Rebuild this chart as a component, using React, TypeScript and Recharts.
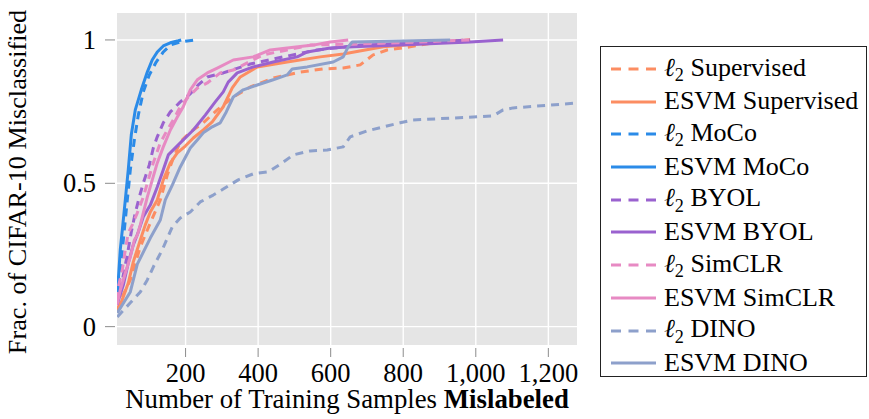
import React from 'react';
import { LineChart, Line, XAxis, YAxis, CartesianGrid } from 'recharts';

const FONT = '"Liberation Serif", "Times New Roman", Times, serif';

// [samples mislabeled, fraction misclassified]
const l2Supervised: number[][] = [
  [11.8, 0.058], [25.6, 0.104], [47.7, 0.163], [75.2, 0.278], [102.8, 0.362], [130.4, 0.442],
  [149.6, 0.529], [166.1, 0.588], [185.4, 0.644], [213, 0.679], [248.8, 0.711], [287.4, 0.756],
  [331.5, 0.801], [378.3, 0.836], [441.6, 0.867], [516, 0.888], [579.4, 0.899], [634.5, 0.902],
  [681.3, 0.913], [717.1, 0.948], [755.7, 0.965], [819, 0.976], [882.4, 0.99], [984.3, 1.0],
];
const esvmSupervised: number[][] = [
  [11.8, 0.051], [28.4, 0.104], [42.1, 0.152], [55.9, 0.226], [75.2, 0.302], [89, 0.355],
  [102.8, 0.4], [122, 0.442], [138.6, 0.512], [158, 0.571], [177.3, 0.606], [199.3, 0.63],
  [221.3, 0.658], [248.8, 0.686], [273.6, 0.714], [303.9, 0.767], [328.7, 0.833], [350.8, 0.871],
  [397.6, 0.906], [480.2, 0.923], [571, 0.941], [634.5, 0.951], [744.7, 0.976], [882.4, 0.99],
  [984.3, 1.0],
];
const l2MoCo: number[][] = [
  [11.8, 0.093], [20, 0.198], [28.4, 0.302], [39.4, 0.442], [47.7, 0.547], [58.8, 0.651],
  [69.7, 0.738], [83.5, 0.819], [100, 0.878], [119, 0.923], [138.6, 0.958], [158, 0.982],
  [185, 0.993], [226.7, 1.0],
];
const esvmMoCo: number[][] = [
  [11, 0.076], [14.6, 0.163], [20, 0.268], [25.6, 0.337], [33.9, 0.442], [42, 0.547],
  [50.4, 0.669], [61.4, 0.756], [78, 0.826], [94.5, 0.888], [108, 0.93], [122, 0.958],
  [138.6, 0.979], [157.9, 0.99], [180, 0.997], [188, 1.0],
];
const l2BYOL: number[][] = [
  [11, 0.076], [20.1, 0.128], [28.4, 0.18], [39.4, 0.25], [50.4, 0.33], [61.4, 0.397],
  [72.5, 0.452], [83.5, 0.501], [100, 0.564], [111, 0.623], [122, 0.662], [138.6, 0.711],
  [158, 0.749], [185.4, 0.784], [213, 0.812], [235, 0.843], [259.8, 0.871], [303.9, 0.885],
  [378.3, 0.916], [469.2, 0.941], [562.9, 0.965], [681.3, 0.982], [846.6, 0.99], [984.3, 1.0],
];
const esvmBYOL: number[][] = [
  [11, 0.076], [28.4, 0.145], [42.1, 0.222], [55.9, 0.285], [69.7, 0.33], [83.5, 0.383],
  [102.8, 0.424], [122, 0.487], [138.6, 0.547], [152.4, 0.599], [185.4, 0.641], [221.3, 0.686],
  [254.3, 0.738], [281.8, 0.784], [303.9, 0.819], [317.6, 0.853], [342.4, 0.885], [386.5, 0.906],
  [441.6, 0.923], [507.8, 0.941], [535.3, 0.958], [598.7, 0.972], [662, 0.976], [791.5, 0.982],
  [984.3, 0.993], [1075.3, 1.0],
];
const l2SimCLR: number[][] = [
  [11, 0.093], [14.6, 0.138], [25.6, 0.198], [33.9, 0.268], [42.1, 0.327], [53.2, 0.355],
  [67, 0.397], [83.5, 0.452], [102.8, 0.536], [111, 0.571], [130.4, 0.641], [149.6, 0.686],
  [166.1, 0.721], [185.4, 0.767], [207.4, 0.801], [232.3, 0.832], [259.8, 0.85], [295.6, 0.885],
  [331.5, 0.895], [370, 0.92], [414.1, 0.948], [480.2, 0.965], [543.6, 0.982], [681.3, 0.986],
  [846.6, 0.993], [984.3, 1.0],
];
const esvmSimCLR: number[][] = [
  [11, 0.076], [20.1, 0.128], [33.9, 0.187], [47.7, 0.243], [58.8, 0.302], [67, 0.319],
  [75.2, 0.355], [83.5, 0.397], [94.5, 0.452], [108.3, 0.512], [122, 0.571], [138.6, 0.627],
  [158, 0.686], [177.3, 0.731], [193.7, 0.767], [213, 0.826], [232.3, 0.861], [259.8, 0.885],
  [287.4, 0.902], [331.5, 0.93], [386.5, 0.941], [433.4, 0.965], [480.2, 0.972], [551.8, 0.982],
  [598.7, 0.993], [648.3, 1.0],
];
const l2DINO: number[][] = [
  [11.8, 0.034], [47.7, 0.083], [75.2, 0.121], [94.5, 0.163], [111, 0.208], [135.8, 0.268],
  [163.4, 0.348], [185.4, 0.379], [213, 0.4], [240.5, 0.435], [276.3, 0.459], [303.9, 0.48],
  [345.2, 0.512], [386.5, 0.533], [427.9, 0.54], [466.4, 0.571], [496.7, 0.599], [543.6, 0.613],
  [590.4, 0.616], [634.5, 0.627], [653.8, 0.662], [700.6, 0.683], [791.5, 0.711], [827.3, 0.721],
  [992.6, 0.731], [1047.7, 0.735], [1075.3, 0.756], [1102.8, 0.763], [1279, 0.78],
];
const esvmDINO: number[][] = [
  [11.8, 0.048], [47.7, 0.121], [67, 0.218], [102.8, 0.309], [130.4, 0.372], [144.1, 0.442],
  [163.4, 0.494], [185.4, 0.557], [213, 0.623], [232.3, 0.651], [248.8, 0.676], [273.6, 0.697],
  [295.6, 0.711], [312.2, 0.749], [331.5, 0.801], [359, 0.826], [397.6, 0.843], [441.6, 0.861],
  [480.2, 0.878], [494, 0.899], [535.3, 0.906], [607, 0.923], [634.5, 0.941], [648.3, 0.976],
  [659.3, 0.993], [929.3, 1.0],
];

const xTicks = [200, 400, 600, 800, 1000, 1200];
const yTicks = [0, 0.5, 1];
const xDomain = [11, 1279];
const yDomain = [-0.064, 1.094];

const ORANGE = '#fc8d62';
const BLUE = '#2b8be8';
const PURPLE = '#9a62cf';
const PINK = '#e78ac3';
const GREYBLUE = '#8da0cb';

const series = [
  { name: 'l2 Supervised', ell: true, label: 'Supervised', pts: l2Supervised, color: ORANGE, dashed: true },
  { name: 'ESVM Supervised', ell: false, label: 'ESVM Supervised', pts: esvmSupervised, color: ORANGE, dashed: false },
  { name: 'l2 MoCo', ell: true, label: 'MoCo', pts: l2MoCo, color: BLUE, dashed: true },
  { name: 'ESVM MoCo', ell: false, label: 'ESVM MoCo', pts: esvmMoCo, color: BLUE, dashed: false },
  { name: 'l2 BYOL', ell: true, label: 'BYOL', pts: l2BYOL, color: PURPLE, dashed: true },
  { name: 'ESVM BYOL', ell: false, label: 'ESVM BYOL', pts: esvmBYOL, color: PURPLE, dashed: false },
  { name: 'l2 SimCLR', ell: true, label: 'SimCLR', pts: l2SimCLR, color: PINK, dashed: true },
  { name: 'ESVM SimCLR', ell: false, label: 'ESVM SimCLR', pts: esvmSimCLR, color: PINK, dashed: false },
  { name: 'l2 DINO', ell: true, label: 'DINO', pts: l2DINO, color: GREYBLUE, dashed: true },
  { name: 'ESVM DINO', ell: false, label: 'ESVM DINO', pts: esvmDINO, color: GREYBLUE, dashed: false },
];

const fmtX = (v: number) => v.toLocaleString('en-US');
const fmtY = (v: number) => String(v);

const XTick = (props: any) => {
  const { x, y, payload } = props;
  return (
    <g>
      <line x1={x} x2={x} y1={y + 3} y2={y + 12} stroke="#8c8c8c" strokeWidth={1} />
      <text x={x} y={y + 37} textAnchor="middle" fontFamily={FONT} fontSize={26.5} fill="#000">
        {fmtX(payload.value)}
      </text>
    </g>
  );
};

const YTick = (props: any) => {
  const { x, y, payload } = props;
  return (
    <g>
      <line x1={x - 12} x2={x - 2} y1={y} y2={y} stroke="#8c8c8c" strokeWidth={1} />
      <text x={x - 21} y={y + 9} textAnchor="end" fontFamily={FONT} fontSize={26.5} fill="#000">
        {fmtY(payload.value)}
      </text>
    </g>
  );
};

const LegendLabel = ({ s }: { s: typeof series[number] }) =>
  s.ell ? (
    <span>
      <span style={{ fontStyle: 'italic' }}>ℓ</span>
      <span style={{ fontSize: '0.7em', position: 'relative', top: '0.3em' }}>2</span> {s.label}
    </span>
  ) : (
    <span>{s.label}</span>
  );

export default function App() {
  return (
    <div style={{ position: 'absolute', left: 0, top: 0, width: 869, height: 419, background: '#fff' }}>
      <LineChart width={869} height={419} margin={{ top: 13, right: 292, bottom: 0, left: 0 }}>
        <CartesianGrid
          fill="#e5e5e5"
          stroke="#ffffff"
          strokeWidth={1.4}
          strokeDasharray=""
          verticalValues={xTicks}
          horizontalValues={yTicks}
        />
        <XAxis
          type="number"
          dataKey="x"
          domain={xDomain}
          ticks={xTicks}
          allowDataOverflow
          axisLine={false}
          tickLine={false}
          tickSize={0}
          tickMargin={0}
          height={74}
          tick={<XTick />}
          interval={0}
        />
        <YAxis
          type="number"
          dataKey="y"
          domain={yDomain}
          ticks={yTicks}
          allowDataOverflow
          axisLine={false}
          tickLine={false}
          tickSize={0}
          tickMargin={0}
          width={117}
          tick={<YTick />}
          interval={0}
        />
        {series.map((s) => (
          <Line
            key={s.name}
            data={s.pts.map(([x, y]) => ({ x, y }))}
            dataKey="y"
            type="linear"
            stroke={s.color}
            strokeWidth={3}
            strokeDasharray={s.dashed ? '8 6' : undefined}
            strokeLinejoin="round"
            dot={false}
            activeDot={false}
            isAnimationActive={false}
          />
        ))}
      </LineChart>

      <div
        style={{
          position: 'absolute', left: 18, top: 182, transform: 'translate(-50%, -50%) rotate(-90deg)',
          whiteSpace: 'nowrap', fontFamily: FONT, fontSize: 26.2, lineHeight: 1, color: '#000',
        }}
      >
        Frac. of CIFAR-10 Misclassified
      </div>
      <div
        style={{
          position: 'absolute', left: 347, top: 386, transform: 'translateX(-50%)',
          whiteSpace: 'nowrap', fontFamily: FONT, fontSize: 26.8, lineHeight: 1, color: '#000',
        }}
      >
        Number of Training Samples <b>Mislabeled</b>
      </div>

      <div
        style={{
          position: 'absolute', left: 600, top: 46, width: 267, height: 331,
          border: '1.3px solid #222', boxSizing: 'border-box', background: '#fff',
          fontFamily: FONT, fontSize: 26, color: '#000',
        }}
      >
        {series.map((s, i) => (
          <div
            key={s.name}
            style={{
              position: 'absolute', left: 0, top: 5.6 + i * 32.7, height: 32.7, lineHeight: '32.7px',
              whiteSpace: 'nowrap', display: 'flex', alignItems: 'center',
            }}
          >
            <svg width={46} height={6} style={{ marginLeft: 10, marginRight: 7 }}>
              <line
                x1={0} x2={45} y1={3} y2={3} stroke={s.color} strokeWidth={3}
                strokeDasharray={s.dashed ? '10 7.5' : undefined}
              />
            </svg>
            <LegendLabel s={s} />
          </div>
        ))}
      </div>
    </div>
  );
}
